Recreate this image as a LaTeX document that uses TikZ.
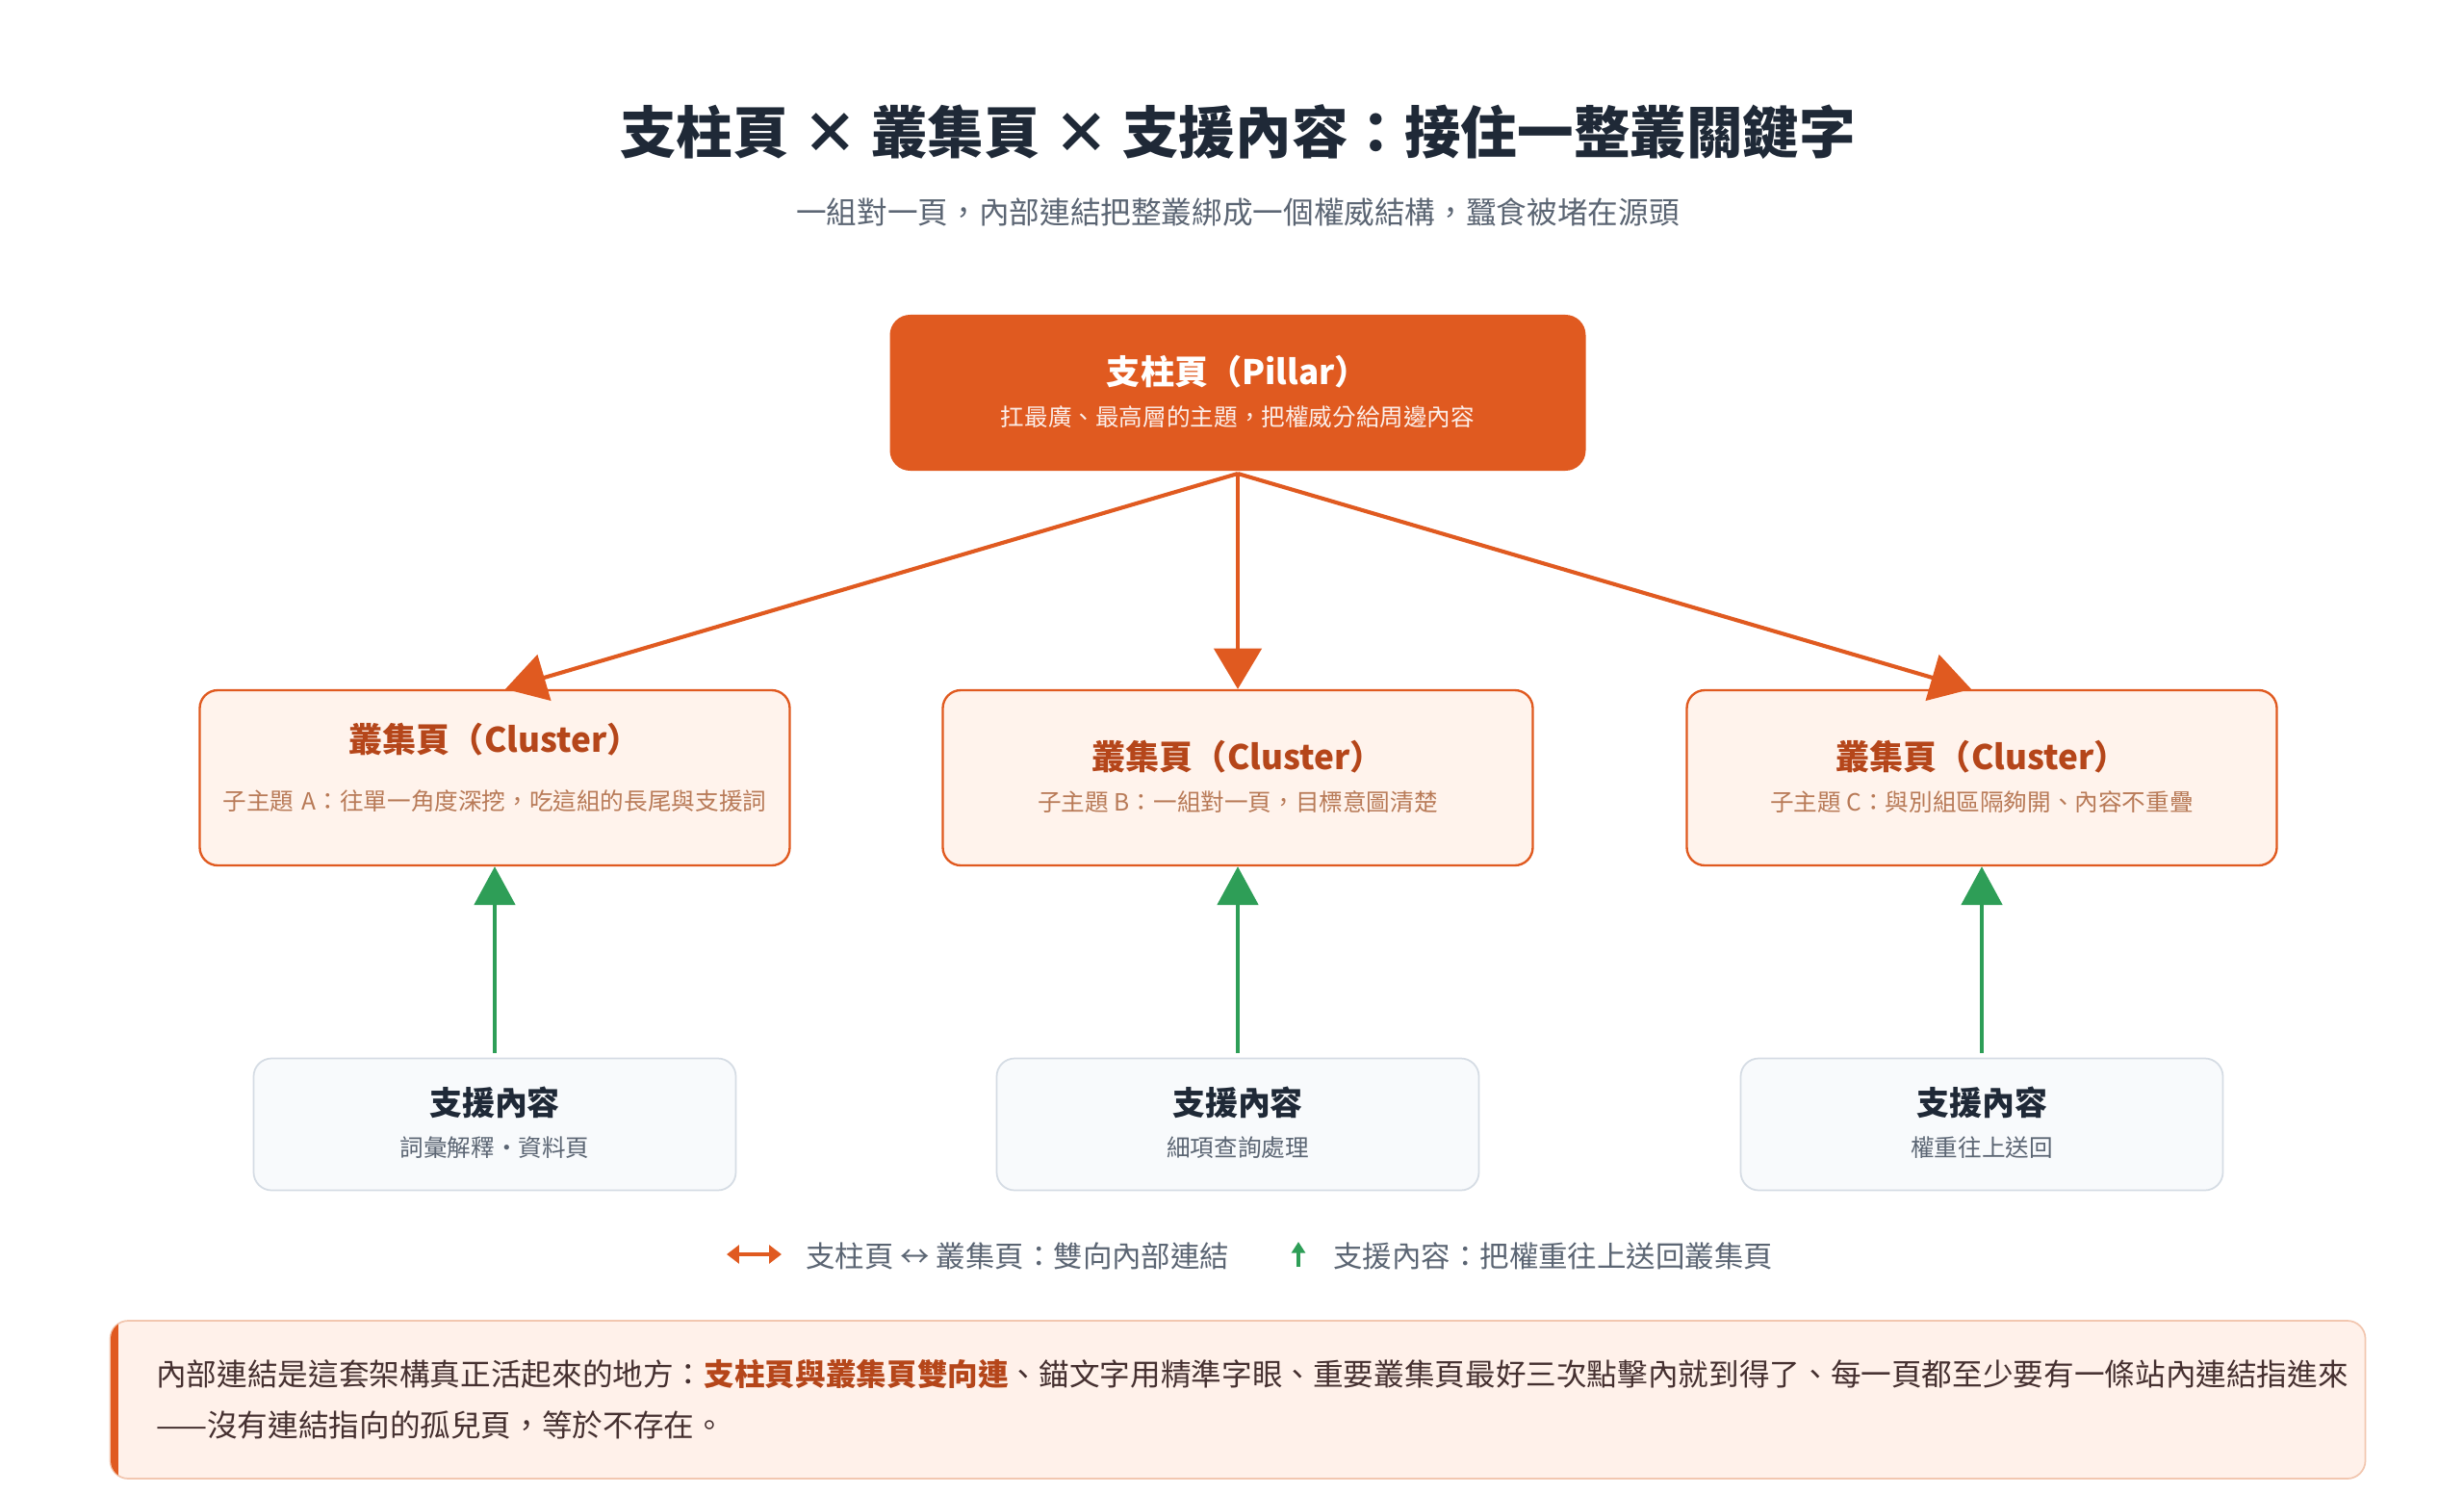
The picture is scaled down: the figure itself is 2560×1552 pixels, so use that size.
\documentclass[tikz,border=0pt]{standalone}
\usepackage{fontspec}
\setmainfont{Noto Sans CJK TC}
\usetikzlibrary{arrows.meta}
\definecolor{org}{HTML}{E05A20}
\definecolor{orgdk}{HTML}{B5461A}
\definecolor{orgtx}{HTML}{B87A57}
\definecolor{clfill}{HTML}{FFF3EC}
\definecolor{spfill}{HTML}{F8FAFC}
\definecolor{spbd}{HTML}{D5DCE4}
\definecolor{ink}{HTML}{1F2937}
\definecolor{gry}{HTML}{5B6573}
\definecolor{grn}{HTML}{2E9E57}
\definecolor{notefill}{HTML}{FFF1EA}
\definecolor{notebd}{HTML}{F2C7B0}
\newcommand{\myfs}[1]{\fontsize{#1}{1.45\dimexpr#1pt\relax}\selectfont}
\begin{document}
\begin{tikzpicture}[x=0.03cm,y=-0.03cm,
  pillar/.style={draw=none,fill=org,rounded corners=18,minimum width=723*0.03cm,minimum height=162*0.03cm},
  cluster/.style={draw=org,line width=2pt,fill=clfill,rounded corners=16,minimum width=613*0.03cm,minimum height=182*0.03cm},
  support/.style={draw=spbd,line width=1.5pt,fill=spfill,rounded corners=16,minimum width=501*0.03cm,minimum height=137*0.03cm},
  txt/.style={align=center,inner sep=0},
  oarr/.style={draw=org,line width=3.5pt,-{Triangle[width=42pt,length=36pt]}},
  garr/.style={draw=grn,line width=3.5pt,-{Triangle[width=36pt,length=34pt]}}]
\useasboundingbox (0,0) rectangle (2560,1552);
\fill[white] (0,0) rectangle (2560,1552);
\node[txt,text=ink,font=\myfs{50}\bfseries] (title) at (1286,137) {支柱頁 × 叢集頁 × 支援內容：接住一整叢關鍵字};
\node[txt,text=gry,font=\myfs{27}] (sub) at (1286,220) {一組對一頁，內部連結把整叢綁成一個權威結構，蠶食被堵在源頭};
% pillar
\node[pillar] (p) at (1286,408) {};
\node[txt,text=white,font=\myfs{30}\bfseries] (pt) at (1286,386) {支柱頁（Pillar）};
\node[txt,text=white!90!org,font=\myfs{21}] (ps) at (1286,433) {扛最廣、最高層的主題，把權威分給周邊內容};
% clusters
\node[cluster] (c1) at (514,808) {};
\node[cluster] (c2) at (1286,808) {};
\node[cluster] (c3) at (2059,808) {};
\node[txt,text=orgdk,font=\myfs{30}\bfseries] (c1t) at (514,768) {叢集頁（Cluster）};
\node[txt,text=orgtx,font=\myfs{21},text width=565*0.03cm] (c1s) at (514,832) {子主題 A：往單一角度深挖，吃這組的長尾與支援詞};
\node[txt,text=orgdk,font=\myfs{30}\bfseries] (c2t) at (1286,786) {叢集頁（Cluster）};
\node[txt,text=orgtx,font=\myfs{21}] (c2s) at (1286,833) {子主題 B：一組對一頁，目標意圖清楚};
\node[txt,text=orgdk,font=\myfs{30}\bfseries] (c3t) at (2059,786) {叢集頁（Cluster）};
\node[txt,text=orgtx,font=\myfs{21}] (c3s) at (2059,833) {子主題 C：與別組區隔夠開、內容不重疊};
% supports
\node[support] (s1) at (514,1168) {};
\node[support] (s2) at (1286,1168) {};
\node[support] (s3) at (2059,1168) {};
\foreach \n/\x/\s in {1/514/詞彙解釋・資料頁,2/1286/細項查詢處理,3/2059/權重往上送回}{
  \node[txt,text=ink,font=\myfs{29}\bfseries] (s\n t) at (\x,1145) {支援內容};
  \node[txt,text=gry,font=\myfs{21}] (s\n s) at (\x,1192) {\s};
}
% arrows
\coordinate (pb) at (1286,492);
\draw[oarr] (pb) -- (c1.north -| 525,0);
\draw[oarr] (pb) -- (c2.north);
\draw[oarr] (pb) -- (c3.north -| 2048,0);
\draw[garr] (s1.north) ++(0,-5) -- (c1.south);
\draw[garr] (s2.north) ++(0,-5) -- (c2.south);
\draw[garr] (s3.north) ++(0,-5) -- (c3.south);
% legend
\coordinate (la) at (755,1303);
\coordinate (lb) at (812,1303);
\draw[draw=org,line width=4pt,{Triangle[width=16pt,length=11pt]}-{Triangle[width=16pt,length=11pt]}] (la) -- (lb);
\node[txt,anchor=west,text=gry,font=\myfs{26}] (l1) at (837,1305) {支柱頁 ↔ 叢集頁：雙向內部連結};
\coordinate (ga) at (1349,1316);
\coordinate (gb) at (1349,1290);
\draw[draw=grn,line width=3pt,-{Triangle[width=12pt,length=10pt]}] (ga) -- (gb);
\node[txt,anchor=west,text=gry,font=\myfs{26}] (l2) at (1385,1305) {支援內容：把權重往上送回叢集頁};
% note
\node[draw=notebd,line width=1.5pt,fill=notefill,rounded corners=16,minimum width=2343*0.03cm,minimum height=164*0.03cm] (note) at (1286,1454) {};
\begin{scope}
\clip[rounded corners=16] (115,1372) rectangle (2458,1536);
\fill[org] (115,1372) rectangle (123,1536);
\end{scope}
\node[txt,anchor=west,align=left,text=ink!75!orgdk,font=\myfs{27}] (nt) at (162,1454) {內部連結是這套架構真正活起來的地方：{\color{orgdk}\bfseries 支柱頁與叢集頁雙向連}、錨文字用精準字眼、重要叢集頁最好三次點擊內就到得了、每一頁都至少要有一條站內連結指進來\\[6pt]——沒有連結指向的孤兒頁，等於不存在。};
\end{tikzpicture}
\end{document}
